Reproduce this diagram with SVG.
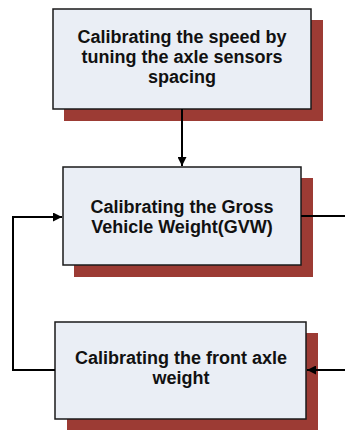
<svg xmlns="http://www.w3.org/2000/svg" width="345" height="430" viewBox="0 0 345 430">
<style>
.shadow{fill:#9C3B34}
.box{fill:#EAEEF5;stroke:#1a1a1a;stroke-width:1.5}
.t{font-family:"Liberation Sans",Arial,sans-serif;font-weight:bold;font-size:18px;fill:#111;text-anchor:middle}
.c{fill:none;stroke:#000;stroke-width:2}
</style>
<defs>
<marker id="ah" viewBox="0 0 10 10" refX="10" refY="5" markerWidth="9" markerHeight="9" markerUnits="userSpaceOnUse" orient="auto">
<path d="M0,0 L10,5 L0,10 z" fill="#000"/>
</marker>
</defs>
<rect width="345" height="430" fill="#fff"/>
<g id="node1">
<rect class="shadow" x="64" y="20" width="259" height="101"/>
<rect class="box" x="53" y="9" width="258" height="100"/>
<text class="t" x="182" y="43">Calibrating the speed by</text>
<text class="t" x="182" y="63">tuning the axle sensors</text>
<text class="t" x="182" y="83">spacing</text>
</g>
<g id="node2">
<rect class="shadow" x="74" y="178" width="239" height="99"/>
<rect class="box" x="63" y="167" width="238" height="98"/>
<text class="t" x="182" y="213">Calibrating the Gross</text>
<text class="t" x="182" y="233">Vehicle Weight(GVW)</text>
</g>
<g id="node3">
<rect class="shadow" x="67" y="333" width="251" height="100"/>
<rect class="box" x="55" y="322" width="251" height="97"/>
<text class="t" x="181" y="364">Calibrating the front axle</text>
<text class="t" x="181" y="384">weight</text>
</g>
<g id="connectors">
<path class="c" d="M182,109 V166" marker-end="url(#ah)"/>
<path class="c" d="M55,370 H13 V217 H62" marker-end="url(#ah)"/>
<path class="c" d="M301,216 H345"/>
<path class="c" d="M345,370 H307" marker-end="url(#ah)"/>
</g>
</svg>
